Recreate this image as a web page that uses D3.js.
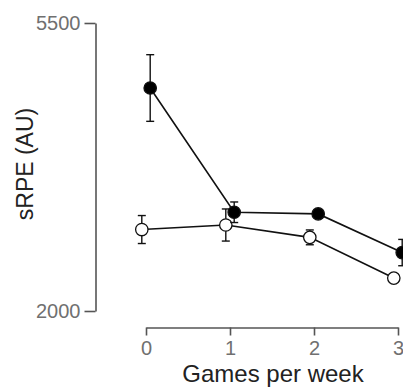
<!DOCTYPE html>
<html>
<head>
<meta charset="utf-8">
<script src="https://cdn.jsdelivr.net/npm/d3@7"></script>
<style>
  html, body { margin: 0; padding: 0; background: #fff; }
  svg { display: block; }
  text { font-family: "Liberation Sans", Arial, Helvetica, sans-serif; }
</style>
</head>
<body>
<svg id="chart" width="403" height="388"></svg>
<script>
// ---- data ----
const games = [0, 1, 2, 3];
const filledMean = [4710, 3200, 3180, 2710];
const filledErr  = [405, 125, 50, 160];
const openMean   = [2990, 3045, 2895, 2400];
const openErr    = [170, 195, 90, 40];
const yTicks = [2000, 5500];
const xTicks = [0, 1, 2, 3];

// ---- layout ----
const svg = d3.select("#chart");
const x = d3.scaleLinear().domain([0, 3]).range([146, 398]);
const y = d3.scaleLinear().domain([2000, 5500]).range([311, 23]);
const dodge = 0.05;
const axisColor = "#555";

// y axis
const yAxis = svg.append("g").attr("transform", "translate(95.5,0)")
  .call(d3.axisLeft(y).tickValues(yTicks).tickSize(11).tickPadding(4).tickSizeOuter(0).tickFormat(d3.format("d")));
yAxis.select(".domain").attr("stroke", axisColor).attr("stroke-width", 1.6);
yAxis.selectAll(".tick line").attr("stroke", axisColor).attr("stroke-width", 1.6);
yAxis.selectAll(".tick text").attr("fill", "#707070").style("font-size", "20px").attr("font-family", null);

// x axis
const xAxis = svg.append("g").attr("transform", "translate(0,327.5)")
  .call(d3.axisBottom(x).tickValues(xTicks).tickSize(8).tickPadding(5).tickSizeOuter(0).tickFormat(d3.format("d")));
xAxis.select(".domain").attr("stroke", axisColor).attr("stroke-width", 1.6);
xAxis.selectAll(".tick line").attr("stroke", axisColor).attr("stroke-width", 1.6);
xAxis.selectAll(".tick text").attr("fill", "#707070").style("font-size", "20px").attr("font-family", null);

// axis titles
svg.append("text")
  .attr("x", 273).attr("y", 382)
  .attr("text-anchor", "middle")
  .attr("fill", "#222")
  .style("font-size", "24px")
  .text("Games per week");

svg.append("text")
  .attr("transform", "translate(33,164) rotate(-90)")
  .attr("text-anchor", "middle")
  .attr("fill", "#222")
  .style("font-size", "23px")
  .text("sRPE (AU)");

// series
function drawSeries(means, errs, off, fill) {
  const pts = games.map((g, i) => ({ g: g + off, m: means[i], e: errs[i] }));
  const g = svg.append("g");
  g.append("path")
    .datum(pts)
    .attr("fill", "none")
    .attr("stroke", "#111")
    .attr("stroke-width", 1.6)
    .attr("d", d3.line().x(d => x(d.g)).y(d => y(d.m)));
  const eb = g.selectAll(".eb").data(pts).enter().append("g");
  eb.append("line")
    .attr("x1", d => x(d.g)).attr("x2", d => x(d.g))
    .attr("y1", d => y(d.m + d.e)).attr("y2", d => y(d.m - d.e))
    .attr("stroke", "#111").attr("stroke-width", 1.4);
  [1, -1].forEach(s => {
    eb.append("line")
      .attr("x1", d => x(d.g) - 4).attr("x2", d => x(d.g) + 4)
      .attr("y1", d => y(d.m + s * d.e)).attr("y2", d => y(d.m + s * d.e))
      .attr("stroke", "#111").attr("stroke-width", 1.4);
  });
  g.selectAll("circle").data(pts).enter().append("circle")
    .attr("cx", d => x(d.g)).attr("cy", d => y(d.m))
    .attr("r", 6.2)
    .attr("fill", fill)
    .attr("stroke", "#111")
    .attr("stroke-width", 1.3);
}

drawSeries(openMean, openErr, -dodge, "#fff");
drawSeries(filledMean, filledErr, dodge, "#000");
</script>
</body>
</html>
